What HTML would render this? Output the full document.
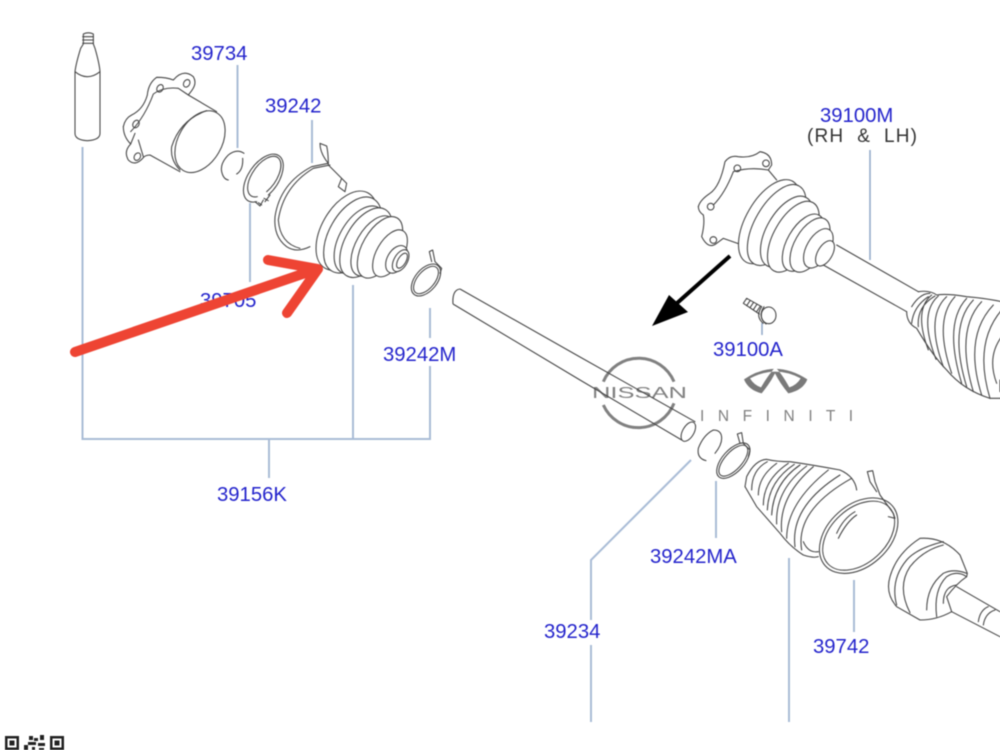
<!DOCTYPE html>
<html>
<head>
<meta charset="utf-8">
<style>
html,body{margin:0;padding:0;background:#fff;width:1000px;height:750px;overflow:hidden}
svg{display:block}
.t{font-family:"Liberation Sans",sans-serif;font-size:20.3px;fill:#2424cc}
.p{fill:none;stroke:#454545;stroke-width:3.2;stroke-linejoin:round;stroke-linecap:round}
.l{stroke:#a9bcd6;stroke-width:2;fill:none}
.w ellipse{fill:#fff}
</style>
</head>
<body>
<svg width="1000" height="750" viewBox="0 0 1000 750" xmlns="http://www.w3.org/2000/svg">
<g style="filter:blur(0.55px)">
<!-- leaders -->
<g class="l">
<path d="M82.5 147V439H430V366M430 338V308M353 285V439M269 439V478"/>
<path d="M237.500 65V148M250 203V282M312 120V163"/>
<path d="M870 150V260M762 323V335" style="stroke:#8fa8c8;stroke-width:1.5"/>
<path d="M691 460L591 560V620M591 645V722M716 481V538M789 558V722M854 580V632"/>
</g>

<!-- LEFT GROUP -->
<g transform="translate(60,20) scale(0.33333)" class="p">
<path d="M45 155V340Q45 360 82 362Q120 360 120 340V155Q118 130 105 85L100 72V42Q85 35 70 42V72L62 85Q48 130 45 155Z"/>
<path d="M45 155Q82 185 120 155M68 50H100M68 60H100M68 70H100"/>
<path d="M190 320Q195 295 215 285Q250 268 262 225Q265 190 290 172Q320 172 340 180Q370 145 400 170Q412 190 395 212L385 225L470 275"/>
<path d="M190 320Q190 350 212 372Q190 395 205 420Q225 440 248 415Q255 405 270 405L360 455"/>
<path d="M212 335Q255 290 280 222Q310 200 355 205L385 225M212 372L225 340M250 410L235 360"/>
<ellipse cx="300" cy="205" rx="9" ry="12" transform="rotate(30 300 205)"/>
<ellipse cx="380" cy="190" rx="9" ry="12" transform="rotate(30 380 190)"/>
<ellipse cx="228" cy="312" rx="9" ry="12" transform="rotate(30 228 312)"/>
<ellipse cx="232" cy="410" rx="9" ry="12" transform="rotate(30 232 410)"/>
<ellipse cx="420" cy="365" rx="65" ry="100" transform="rotate(30 420 365)"/>
<path d="M440 272Q360 300 335 380Q330 420 360 450"/>
<path d="M552 400Q530 385 505 405Q480 430 485 455Q490 478 505 480M548 415Q550 450 530 462"/>
<path d="M590 545A45 82 35 1 1 625 525"/>
<path d="M592 530A36 70 35 1 1 620 515"/>
<path d="M585 545L600 558L610 540M615 545L630 525M595 548L605 555M612 535L625 542"/>
<path d="M750 680Q710 700 680 680Q640 650 645 590Q660 490 755 440L805 430"/>
<path d="M720 685Q660 670 655 600Q670 500 760 445L810 435"/>
<path d="M805 430Q780 400 780 370L800 378Q805 400 805 435L860 490L855 515L835 500L845 475"/>
<g class="w">
<ellipse cx="860" cy="632" rx="75" ry="130" transform="rotate(30 860 632)"/>
<ellipse cx="878" cy="645" rx="70" ry="125" transform="rotate(30 878 645)"/>
<ellipse cx="900" cy="660" rx="62" ry="112" transform="rotate(30 900 660)"/>
<ellipse cx="918" cy="668" rx="62" ry="115" transform="rotate(30 918 668)"/>
<ellipse cx="940" cy="678" rx="52" ry="100" transform="rotate(30 940 678)"/>
<ellipse cx="960" cy="682" rx="52" ry="102" transform="rotate(30 960 682)"/>
<ellipse cx="990" cy="700" rx="40" ry="78" transform="rotate(30 990 700)"/>
<ellipse cx="1010" cy="718" rx="28" ry="45" transform="rotate(30 1010 718)"/>
<ellipse cx="1022" cy="722" rx="20" ry="36" transform="rotate(30 1022 722)"/>
<ellipse cx="1026" cy="722" rx="12" ry="25" transform="rotate(30 1026 722)"/>
</g>
<ellipse cx="1098" cy="780" rx="33" ry="56" transform="rotate(40 1098 780)"/>
<ellipse cx="1098" cy="780" rx="26" ry="49" transform="rotate(40 1098 780)"/>
<path d="M1115 725L1108 695L1118 690L1125 725L1145 745L1140 760"/>
</g>

<!-- RIGHT AXLE -->
<g transform="translate(680,90) scale(0.33333)" class="p">
<path d="M55 350Q60 330 90 310Q120 290 135 215Q150 195 175 200Q215 205 240 185Q275 190 275 225L265 240L290 270"/>
<path d="M55 350Q55 365 70 375Q75 400 65 440Q85 480 110 460L130 445L178 462"/>
<path d="M100 345Q135 310 160 245Q210 230 265 240"/>
<circle cx="172" cy="235" r="10"/><circle cx="258" cy="220" r="10"/><circle cx="92" cy="350" r="10"/><circle cx="100" cy="450" r="10"/>
<g class="w">
<ellipse cx="268" cy="395" rx="70" ry="140" transform="rotate(30 268 395)"/>
<ellipse cx="290" cy="405" rx="65" ry="135" transform="rotate(30 290 405)"/>
<ellipse cx="320" cy="425" rx="60" ry="118" transform="rotate(30 320 425)"/>
<ellipse cx="340" cy="440" rx="58" ry="118" transform="rotate(30 340 440)"/>
<ellipse cx="370" cy="458" rx="48" ry="95" transform="rotate(30 370 458)"/>
<ellipse cx="390" cy="465" rx="46" ry="90" transform="rotate(30 390 465)"/>
<ellipse cx="415" cy="475" rx="35" ry="65" transform="rotate(30 415 475)"/>
<ellipse cx="435" cy="490" rx="22" ry="42" transform="rotate(30 435 490)"/>
</g>
<path d="M470 465L715 605M430 525L680 665"/>
<path d="M715 605Q750 600 770 615Q800 610 860 620Q920 625 965 635M680 665Q680 700 710 715Q760 800 800 840Q850 900 930 925H965"/>
<path d="M695 650Q720 610 750 610M695 700Q700 650 745 620M715 710Q710 650 765 618M755 615Q700 660 745 780M775 618Q715 670 768 808M800 620Q735 680 790 830M825 620Q760 690 815 850M860 625Q790 700 845 880M880 630Q805 710 860 890M905 635Q825 720 880 905M940 645Q850 740 905 915M965 660Q880 760 930 925M965 740Q920 800 950 880M960 870V905"/>
<path d="M200 625L245 650M190 640L238 672M200 625L190 640M210 632L200 647M220 638L210 653M230 644L220 659M240 650L230 665"/>
<ellipse cx="266" cy="676" rx="22" ry="25"/>
<path d="M245 650Q225 680 250 700M252 650Q232 680 258 702"/>
</g>

<!-- LOWER RIGHT -->
<g transform="translate(680,420) scale(0.33333)" class="p">
<path d="M105 100Q125 75 125 55Q125 30 100 30Q70 45 55 85Q50 115 78 122"/>
<ellipse cx="160" cy="122" rx="33" ry="65" transform="rotate(42 160 122)"/>
<ellipse cx="160" cy="122" rx="26" ry="58" transform="rotate(42 160 122)"/>
<path d="M180 70L172 42L185 38L190 70L210 90L205 110"/>
<path d="M195 200L200 170Q225 120 260 118Q290 125 330 125Q400 135 480 150Q525 170 530 210"/>
<path d="M195 200L230 260L300 340Q330 380 370 405Q400 415 415 410"/>
<path d="M215 210Q215 150 262 125M235 225Q235 170 290 130M250 255Q250 180 325 130M262 270Q265 185 343 133M275 285Q280 190 360 135M290 312Q285 210 380 138M305 335Q295 230 400 140M320 355Q320 250 445 150M345 380Q330 260 480 165M365 390Q345 270 515 175"/>
<path d="M370 365Q385 400 415 395"/>
<ellipse cx="536" cy="347" rx="135" ry="92" transform="rotate(-42 536 347)"/>
<ellipse cx="536" cy="347" rx="125" ry="82" transform="rotate(-42 536 347)"/>
<path d="M470 340Q490 295 525 275M475 355Q500 305 530 285"/>
<path d="M590 215L570 185L562 155L578 152L585 185L600 225L640 280L645 295L625 290"/>
<path d="M630 470Q650 400 720 355Q790 350 840 405L862 460L860 470Q830 490 800 530L815 575Q770 600 720 600L650 560Q615 520 630 470Z"/>
<path d="M690 578Q650 500 690 440Q730 390 790 375M650 555Q630 480 680 420Q710 385 790 365"/>
<path d="M740 570Q740 500 790 460Q820 445 860 460M770 590Q760 510 800 470Q830 450 860 470M790 550Q790 500 830 495"/>
<path d="M830 500L960 575M815 575L960 650M925 560Q900 570 895 605M945 570Q915 580 910 615"/>
</g>

<!-- logos -->
<g transform="translate(580,340) scale(0.33333)">
<path d="M70 125A115 115 0 0 1 282 125M70 195A115 115 0 0 0 282 190" fill="none" stroke="#808080" stroke-width="9"/>
<path fill="#7a7a7a" d="M492 118Q585 55 682 118Q670 150 625 160Q600 130 585 100Q570 130 545 160Q505 150 492 118Z"/>
<path fill="#fff" d="M510 115Q585 75 662 115Q650 135 628 142Q605 100 586 82Q568 100 543 142Q522 135 510 115Z"/>
</g>
<text x="592" y="398" font-family="Liberation Sans,sans-serif" font-size="15.500" fill="#808080" textLength="95" lengthAdjust="spacingAndGlyphs">NISSAN</text>
<text x="700" y="421" font-family="Liberation Sans,sans-serif" font-size="15.500" fill="#808080" textLength="153">I N F I N I T I</text>

<!-- shaft -->
<g class="p" transform="translate(580,340) scale(0.33333)">
<path d="M0 51L345 245M0 120L305 300"/>
<ellipse cx="325" cy="275" rx="17" ry="32" transform="rotate(30 325 275)" fill="#fff"/>
</g>
<path d="M460 289Q452 290 453 304" fill="none" stroke="#454545" stroke-width="1.1"/>
<path d="M460 289L580 357M453 304L580 380" fill="none" stroke="#454545" stroke-width="1.1"/>

<!-- labels -->
<text class="t" x="191" y="60">39734</text>
<text class="t" x="265" y="112.500">39242</text>
<text class="t" x="200" y="307">39705</text>
<text class="t" x="383" y="361">39242M</text>
<text class="t" x="217" y="501">39156K</text>
<text class="t" x="820" y="122">39100M</text>
<text x="807" y="142" font-family="Liberation Sans,sans-serif" font-size="19" fill="#333" style="white-space:pre" textLength="110">(RH  &amp;  LH)</text>
<text class="t" x="713" y="356">39100A</text>
<text class="t" x="650" y="563">39242MA</text>
<text class="t" x="544" y="638">39234</text>
<text class="t" x="813" y="653">39742</text>

<!-- black arrow -->
<path d="M730 256L676 304" stroke="#000" stroke-width="4" fill="none"/>
<path d="M652 326L669 295L688 312Z" fill="#000"/>

<!-- red arrow -->
<path d="M75 352L314 270M268 260L318 269L287 313" fill="none" stroke="#ee4433" stroke-width="10" stroke-linecap="round" stroke-linejoin="round"/>

<!-- QR fragment -->
<g fill="#222">
<path fill-rule="evenodd" d="M5 736h14v14h-14zM7.500 738.500v9h9v-9z"/>
<rect x="9.500" y="740.500" width="5" height="5"/>
<path fill-rule="evenodd" d="M50 736h14v14h-14zM52.500 738.500v9h9v-9z"/>
<rect x="54.500" y="740.500" width="5" height="5"/>
<path d="M24 745h4v5h-4zM29 736h4v4h-4zM34 738h4v3h-4zM40 735h4v5h-4zM28 742h8v3h-8zM38 743h7v3h-7zM32 747h3v3h-3zM39 748h5v2h-5z"/>
</g>
</g>
</svg>
</body>
</html>
